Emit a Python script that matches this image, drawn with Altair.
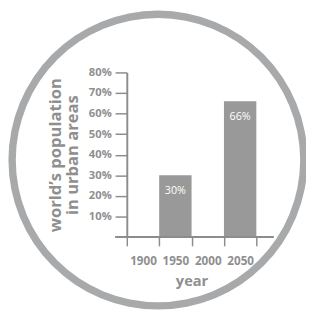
import altair as alt
import pandas as pd

# data
years = ["1900", "1950", "2000", "2050"]
bar_years = ["1950", "2050"]
bar_values = [30, 66]
bar_labels = ["30%", "66%"]
y_ticks = [10, 20, 30, 40, 50, 60, 70, 80]

GRAY_TXT = "#8f8f8f"
GRAY_AX = "#8c8c8c"
BAR = "#999999"
RING = "#a8a9ab"
FONT = "Open Sans"

bars_df = pd.DataFrame({"year": bar_years, "value": bar_values, "label": bar_labels})

xscale = alt.Scale(domain=years, paddingInner=0, paddingOuter=0)
yscale = alt.Scale(domain=[0, 80], nice=False)

one = pd.DataFrame({"a": [0]})
ring_outer = alt.Chart(one).mark_arc(
    radius=153.5, theta=0, theta2=6.2832, color=RING
).encode(x=alt.value(32), y=alt.value(90))
ring_inner = alt.Chart(one).mark_arc(
    radius=146, theta=0, theta2=6.2832, color="white"
).encode(x=alt.value(32), y=alt.value(90))

xaxis = alt.Axis(title="year", domain=False, tickBand="extent", zindex=1,
                 tickSize=9, labelAngle=0, labelPadding=10,
                 labelFontSize=12, titleFontSize=15, titlePadding=8)
yaxis = alt.Axis(title=["world\u2019s population", "in urban areas"],
                 values=y_ticks, labelExpr="datum.value + '%'", zindex=1,
                 labelOverlap=False, tickCount=8,
                 domainColor=GRAY_AX, domainWidth=2,
                 tickSize=12, labelPadding=4, labelFontSize=11.5,
                 titleFontSize=17, titleLineHeight=18, titlePadding=7)

bars = alt.Chart(bars_df).mark_bar(color=BAR).encode(
    x=alt.X("year:N", scale=xscale, sort=years, axis=xaxis),
    y=alt.Y("value:Q", scale=yscale, axis=yaxis),
)

labels = alt.Chart(bars_df).mark_text(
    color="white", font=FONT, fontSize=11, baseline="middle", dy=16
).encode(
    x=alt.X("year:N", scale=xscale, sort=years, axis=xaxis),
    y=alt.Y("value:Q", scale=yscale, axis=yaxis),
    text="label:N",
)

baseline = alt.Chart(pd.DataFrame({"value": [0]})).mark_rule(
    color=GRAY_AX, strokeWidth=2
).encode(
    y=alt.Y("value:Q", scale=yscale, axis=yaxis),
    x=alt.value(-12), x2=alt.value(151),
)

chart = alt.layer(ring_outer, ring_inner, bars, labels, baseline).properties(
    width=133, height=169,
    padding={"left": 122, "top": 62, "right": 51, "bottom": 79},
    autosize=alt.AutoSizeParams(type="none"),
).configure_view(strokeWidth=0).configure_axis(
    labelOverlap=False, labelBound=False, labelFlush=False,
    tickColor=GRAY_AX, tickWidth=1.5, labelFont=FONT, labelFontWeight="bold",
    labelColor=GRAY_TXT, titleFont=FONT, titleFontWeight="bold",
    titleColor=GRAY_TXT, grid=False,
)

chart.save("out.html", embed_options={"renderer": "svg", "actions": False})
